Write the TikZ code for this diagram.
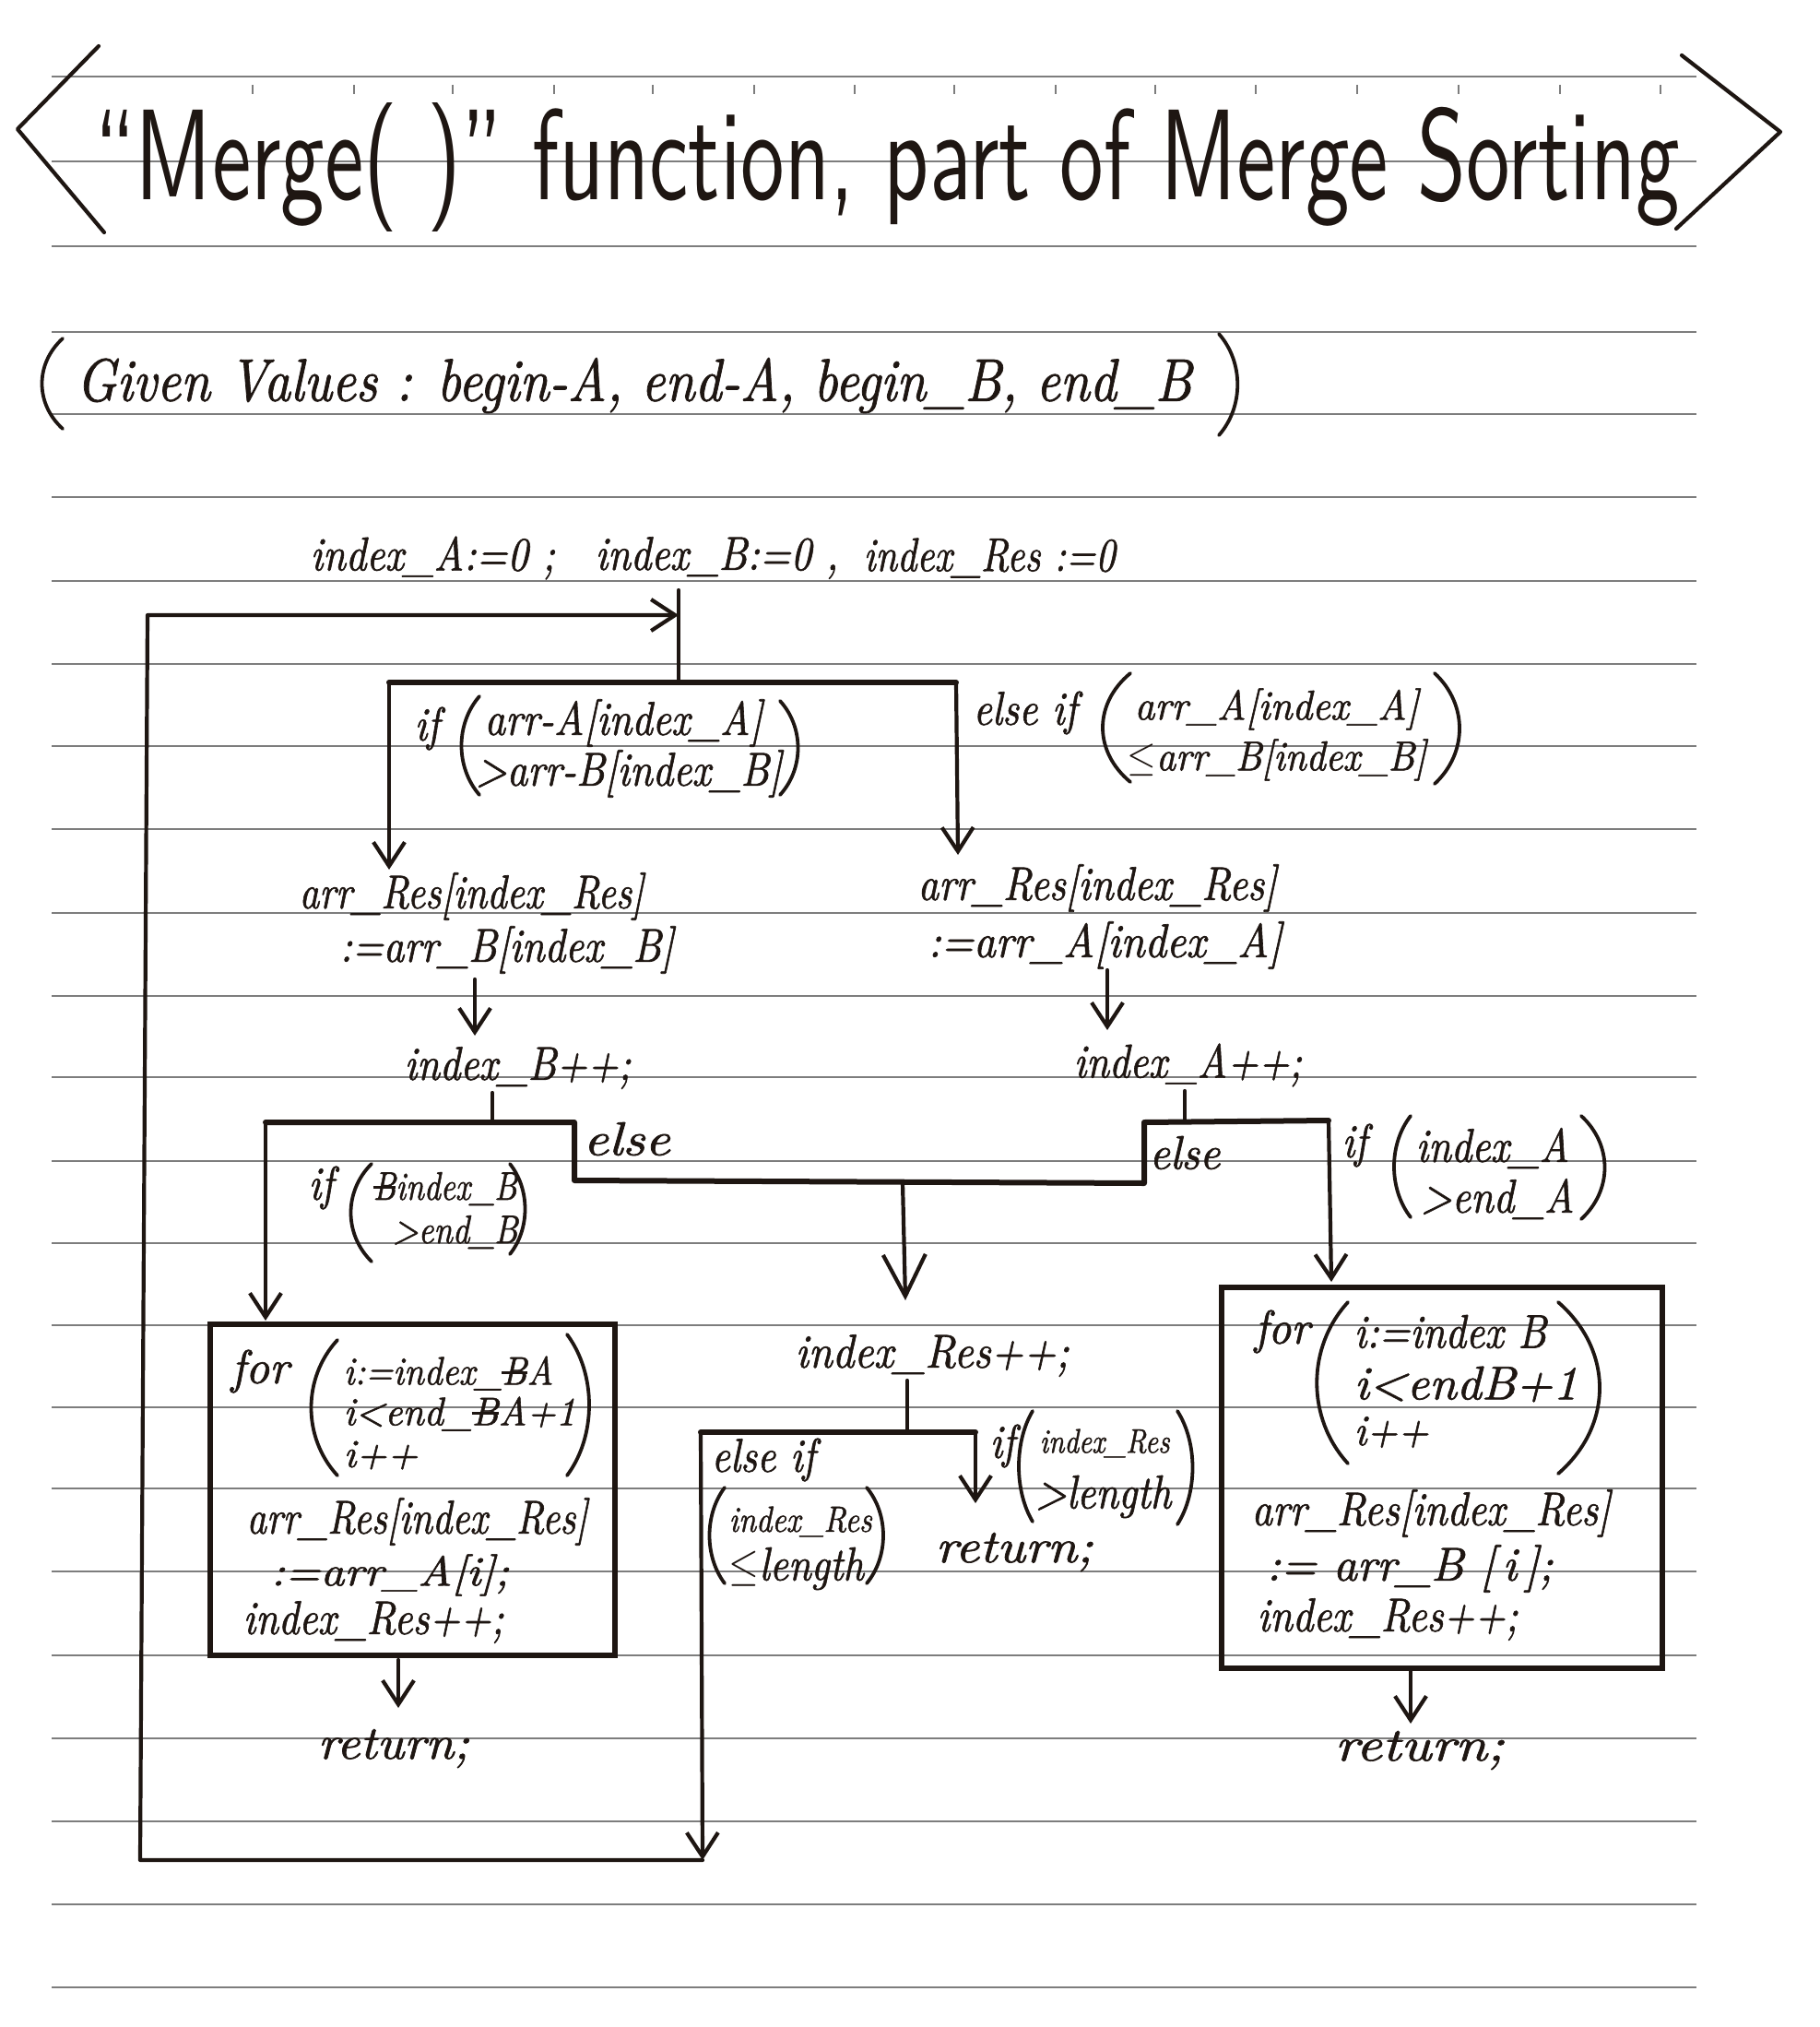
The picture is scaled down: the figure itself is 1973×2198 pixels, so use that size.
\documentclass[tikz,border=0pt]{standalone}
\usepackage{fontspec}
\usepackage{graphicx}
\usetikzlibrary{arrows.meta,calc}
\newfontfamily\handfont{lmroman10-italic.otf}[FakeBold=1.3]
\definecolor{ink}{RGB}{30,22,18}
\definecolor{paperline}{RGB}{125,125,125}
\newcommand\hw[2][1]{\scalebox{#1}[1.17]{#2}}
\newcommand\stk[1]{\setbox0\hbox{#1}\rlap{#1}\rule[0.4\ht0]{\wd0}{0.7pt}}
\newcommand\mylp[4]{\draw[parpen] (#1,#2) .. controls ({#1-#4},{#2+0.28*(#3-#2)}) and ({#1-#4},{#3-0.28*(#3-#2)}) .. (#1,#3);}
\newcommand\myrp[4]{\draw[parpen] (#1,#2) .. controls ({#1+#4},{#2+0.28*(#3-#2)}) and ({#1+#4},{#3-0.28*(#3-#2)}) .. (#1,#3);}
\begin{document}
\begin{tikzpicture}[x=0.1mm,y=-0.1mm,
  pen/.style={ink,line width=0.42mm,line cap=round,line join=round},
  bar/.style={ink,line width=0.6mm,line cap=round,line join=round},
  parpen/.style={ink,line width=0.38mm,line cap=round},
  arr/.style={pen,-{Straight Barb[length=2.6mm,width=3.4mm]}},
  arrbig/.style={pen,-{Straight Barb[length=4.5mm,width=4.6mm]}},
  paper/.style={paperline,line width=0.25mm},
  txt/.style={text=ink,inner sep=0pt,anchor=west,font=\handfont\fontsize{12.5}{15}\selectfont},
  hsize/.style={font=\handfont\fontsize{#1}{#1}\selectfont},
  boxst/.style={draw=ink,line width=0.55mm,inner sep=0pt}]
\fill[white] (0,0) rectangle (1973,2198);
\useasboundingbox (0,0) rectangle (1973,2198);
% ruled paper
\foreach \y in {83,175,267,360,449,539,630,720,809,899,990,1080,1168,1259,1348,1437,1526,1614,1704,1795,1885,1975,2065,2155}
  \draw[paper] (56,\y) -- (1840,\y);
\foreach \x in {274,384,491,601,708,818,927,1035,1145,1253,1362,1472,1582,1692,1801}
  \draw[paper] (\x,92) -- (\x,102);
% title
\draw[pen] (107,50) -- (19,140) -- (113,252);
\draw[pen] (1824,60) -- (1931,143) -- (1818,248);
\node (title) [text=ink,inner sep=0pt,anchor=base] at (962,217)
  {\resizebox{172mm}{10.5mm}{\sffamily “Merge( )” function, part of Merge Sorting}};
% given values
\mylp{68}{367}{465}{30}
\myrp{1322}{362}{472}{27}
\node (given) [txt] at (82,418)
  {\scalebox{1}[1.15]{\resizebox{121mm}{!}{\handfont Given Values : begin-A, end-A, begin\_B, end\_B}}};
% init line
\node (iA) [txt] at (336,605) {\hw{index\_A:=0 ;}};
\node (iB) [txt] at (645,605) {\hw{index\_B:=0 ,}};
\node (iR) [txt] at (936,605) {\hw[0.95]{index\_Res :=0}};
% first decision
\node (if1) [txt] at (449,790) {\hw{if}};
\node (c1a) [txt] at (525,784) {\hw{arr-A[index\_A]}};
\node (c1b) [txt] at (515,839) {\hw{>arr-B[index\_B]}};
\mylp{520}{755}{862}{26}
\myrp{846}{760}{862}{26}
\node (elif1) [txt] at (1055,773) {\hw{else if}};
\node (c2a) [txt,hsize=11] at (1230,769) {\hw[1.1]{arr\_A[index\_A]}};
\node (c2b) [txt,hsize=11] at (1222,824) {\hw[1.056]{$\leq$arr\_B[index\_B]}};
\mylp{1226}{730}{848}{40}
\myrp{1556}{730}{850}{36}
% assignments
\node (rB1) [txt] at (324,972) {\hw[0.96]{arr\_Res[index\_Res]}};
\node (rB2) [txt] at (368,1030) {\hw{:=arr\_B[index\_B]}};
\node (rA1) [txt] at (995,963) {\hw{arr\_Res[index\_Res]}};
\node (rA2) [txt] at (1006,1025) {\hw[1.05]{:=arr\_A[index\_A]}};
\node (incB) [txt] at (438,1158) {\hw{index\_B++;}};
\node (incA) [txt] at (1164,1155) {\hw{index\_A++;}};
% second decisions
\node (else1) [txt] at (632,1235) {\hw[1.35]{else}};
\node (if2) [txt] at (334,1288) {\hw{if}};
\node (c3a) [txt,hsize=10.5] at (404,1289) {\hw[0.95]{\stk{B}index\_B}};
\node (c3b) [txt,hsize=10.5] at (425,1336) {\hw[0.98]{>end\_B}};
\mylp{403}{1262}{1368}{30}
\myrp{553}{1262}{1360}{22}
\node (else2) [txt] at (1246,1250) {\hw[1.1]{else}};
\node (if3) [txt] at (1455,1242) {\hw{if}};
\node (c4a) [txt] at (1535,1245) {\hw{index\_A}};
\node (c4b) [txt] at (1540,1300) {\hw{>end\_A}};
\mylp{1530}{1210}{1320}{24}
\myrp{1715}{1210}{1322}{34}
% left for box
\node (forA) [boxst,minimum width=43.9mm,minimum height=35.9mm] at (447.5,1615.5) {};
\node (forL) [txt] at (250,1487) {\hw[1.15]{for}};
\node (fa1) [txt,hsize=10.5] at (372,1489) {\hw[1.05]{i:=index\_\stk{B}A}};
\node (fa2) [txt,hsize=10.5] at (372,1533) {\hw[1.12]{i<end\_\stk{B}A+1}};
\node (fa3) [txt,hsize=10.5] at (372,1578) {\hw[1.19]{i++}};
\mylp{366}{1453}{1600}{38}
\myrp{615}{1447}{1600}{32}
\node (fa4) [txt] at (267,1650) {\hw[0.95]{arr\_Res[index\_Res]}};
\node (fa5) [txt,hsize=11] at (293,1708) {\hw[1.3]{:=arr\_A[i];}};
\node (fa6) [txt] at (263,1759) {\hw{index\_Res++;}};
\node (retA) [txt] at (344,1896) {\hw[1.25]{return;}};
% right for box
\node (forB) [boxst,minimum width=47.8mm,minimum height=41.3mm] at (1564,1602.5) {};
\node (forR) [txt] at (1360,1444) {\hw[1.1]{for}};
\node (fb1) [txt] at (1468,1444) {\hw{i:=index B}};
\node (fb2) [txt] at (1468,1501) {\hw[1.2]{i<endB+1}};
\node (fb3) [txt,hsize=11.5] at (1468,1553) {\hw[1.09]{i++}};
\mylp{1462}{1412}{1587}{45}
\myrp{1690}{1412}{1598}{60}
\node (fb4) [txt] at (1357,1641) {\hw{arr\_Res[index\_Res]}};
\node (fb5) [txt] at (1373,1701) {\hw[1.15]{:= arr\_B [\,i\,];}};
\node (fb6) [txt] at (1363,1756) {\hw{index\_Res++;}};
\node (retB) [txt] at (1447,1898) {\hw[1.4]{return;}};
% middle
\node (incR) [txt] at (862,1470) {\hw[1.05]{index\_Res++;}};
\node (elif2) [txt] at (771,1583) {\hw{else if}};
\node (c5a) [txt,hsize=9.6] at (790,1650) {\hw{index\_Res}};
\node (c5b) [txt] at (790,1701) {\hw{$\leq$length}};
\mylp{786}{1613}{1717}{22}
\myrp{940}{1613}{1717}{24}
\node (if4) [txt] at (1073,1568) {\hw{if}};
\node (c6a) [txt,hsize=9] at (1127,1565) {\hw[0.97]{index\_Res}};
\node (c6b) [txt] at (1122,1623) {\hw{>length}};
\mylp{1120}{1530}{1650}{20}
\myrp{1277}{1530}{1653}{22}
\node (retM) [txt] at (1014,1683) {\hw[1.3]{return;}};
% junction coordinates
\coordinate (c0) at (736,640);
\coordinate (j0) at (736,740);
\coordinate (j0L) at (422,740);
\coordinate (j0R) at (1037,740);
\coordinate (t0L) at (422,943);
\coordinate (t0R) at (1039,927);
\coordinate (aB1) at (515,1062);
\coordinate (aB2) at (515,1123);
\coordinate (aA1) at (1201,1052);
\coordinate (aA2) at (1201,1117);
\coordinate (sB) at (534,1185);
\coordinate (jB) at (534,1217);
\coordinate (jBL) at (288,1217);
\coordinate (jBR) at (623,1217);
\coordinate (tB) at (288,1432);
\coordinate (kB) at (623,1280);
\coordinate (kA) at (1241,1283);
\coordinate (jAL) at (1241,1217);
\coordinate (jA) at (1285,1216);
\coordinate (jAR) at (1441,1215);
\coordinate (sA) at (1285,1183);
\coordinate (tA) at (1444,1390);
\coordinate (m1) at (979,1282);
\coordinate (tM) at (982,1410);
\coordinate (bA1) at (432,1800);
\coordinate (bA2) at (432,1852);
\coordinate (bB1) at (1530,1812);
\coordinate (bB2) at (1530,1869);
\coordinate (sR) at (984,1497);
\coordinate (jR) at (984,1553);
\coordinate (jRL) at (760,1553);
\coordinate (jRR) at (1058,1553);
\coordinate (tR) at (1058,1630);
\coordinate (tL) at (762,2017);
\coordinate (L2) at (152,2017);
\coordinate (L3) at (160,667);
\coordinate (L4) at (736,667);
% connectors
\draw[pen] (c0) -- (j0);
\draw[bar] (j0L) -- (j0R);
\draw[arr] (j0L) -- (t0L);
\draw[arr] (j0R) -- (t0R);
\draw[arr] (aB1) -- (aB2);
\draw[arr] (aA1) -- (aA2);
\draw[pen] (sB) -- (jB);
\draw[bar] (jBL) -- (jBR) -- (kB) -- (kA) -- (jAL) -- (jAR);
\draw[pen] (sA) -- (jA);
\draw[arr] (jBL) -- (tB);
\draw[arr] (jAR) -- (tA);
\draw[arrbig] (m1) -- (tM);
\draw[arr] (bA1) -- (bA2);
\draw[arr] (bB1) -- (bB2);
\draw[pen] (sR) -- (jR);
\draw[bar] (jRL) -- (jRR);
\draw[arr] (jRR) -- (tR);
\draw[arr] (jRL) -- (tL);
\draw[arr] (tL) -- (L2) -- (L3) -- (L4);
\end{tikzpicture}
\end{document}
